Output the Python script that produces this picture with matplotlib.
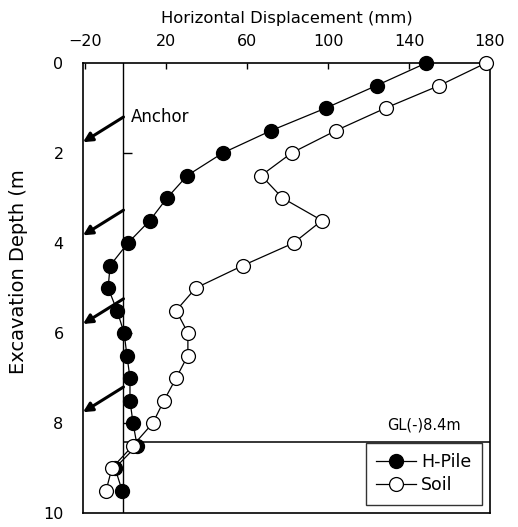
import matplotlib
matplotlib.use("Agg")
import matplotlib.pyplot as plt

plt.rcParams['font.family'] = ['DejaVu Sans']

depth = [0, 0.5, 1.0, 1.5, 2.0, 2.5, 3.0, 3.5, 4.0, 4.5, 5.0, 5.5, 6.0, 6.5, 7.0, 7.5, 8.0, 8.5, 9.0, 9.5]
hpile = [148.5, 124, 99, 72, 48, 30.5, 20.5, 12, 1.2, -7.6, -8.6, -4.2, -0.7, 0.7, 2.2, 2.2, 3.7, 5.7, -5.2, -1.7]
soil = [178, 155, 128.5, 104, 82, 67, 77.5, 97, 83, 58, 34.7, 25, 30.8, 30.8, 25, 19, 13.5, 3.7, -6.7, -9.6]

xticks = [-20, 20, 60, 100, 140, 180]
yticks = [0, 2, 4, 6, 8, 10]
wall_x = -1.0
gl_depth = 8.42
anchor_depth = [1.2, 3.27, 5.24, 7.2]
anchor_drop = 0.56

fig = plt.figure(figsize=(5.18, 5.27), dpi=100)
ax = fig.add_axes([83/518, 1-513/527, (490-83)/518, (513-63)/527])

ax.set_xlim(-21, 180)
ax.set_ylim(10, 0)

ax.axvline(wall_x, color='black', lw=1.0)
ax.hlines(gl_depth, wall_x, 180, color='black', lw=1.1)
ax.hlines(yticks[1:-1], wall_x, wall_x + 4, color='black', lw=1.0)

ax.plot(hpile, depth, '-o', color='black', lw=0.9, markersize=10,
        markerfacecolor='black', markeredgecolor='black', label='H-Pile', clip_on=False, zorder=3)
ax.plot(soil, depth, '-o', color='black', lw=0.9, markersize=10,
        markerfacecolor='white', markeredgecolor='black', markeredgewidth=0.9,
        label='Soil', clip_on=False, zorder=3)

for d in anchor_depth:
    ax.annotate('', xy=(-21, d + anchor_drop), xytext=(wall_x, d),
                arrowprops=dict(arrowstyle='-|>,head_length=0.55,head_width=0.28',
                                color='black', lw=2.2, shrinkA=0, shrinkB=0))

ax.text(2.8, 1.2, 'Anchor', fontsize=12, ha='left', va='center')
ax.text(129, 8.05, 'GL(-)8.4m', fontsize=10.5, ha='left', va='center')

ax.xaxis.set_ticks_position('top')
ax.xaxis.set_label_position('top')
ax.set_xticks(xticks)
ax.set_xticklabels([str(t).replace('-', '\u2212') for t in xticks])
ax.tick_params(axis='x', direction='in', length=4, width=1, pad=10, labelsize=11.5)
ax.set_yticks(yticks)
ax.tick_params(axis='y', length=0, pad=14, labelsize=11.5)
ax.set_xlabel('Horizontal Displacement (mm)', fontsize=11.8, labelpad=8)
ax.set_ylabel('Excavation Depth (m', fontsize=14)
ax.yaxis.set_label_coords(-0.136, 0.537)

for s in ax.spines.values():
    s.set_linewidth(1.2)

leg = ax.legend(loc='lower right', bbox_to_anchor=(0.98, 0.018), borderaxespad=0,
                frameon=True, fancybox=False, edgecolor='black', fontsize=12.5,
                handlelength=2.3, handletextpad=0.3, borderpad=0.6, labelspacing=0.3)
leg.get_frame().set_linewidth(1.0)

fig.savefig('out.png', dpi=100)
